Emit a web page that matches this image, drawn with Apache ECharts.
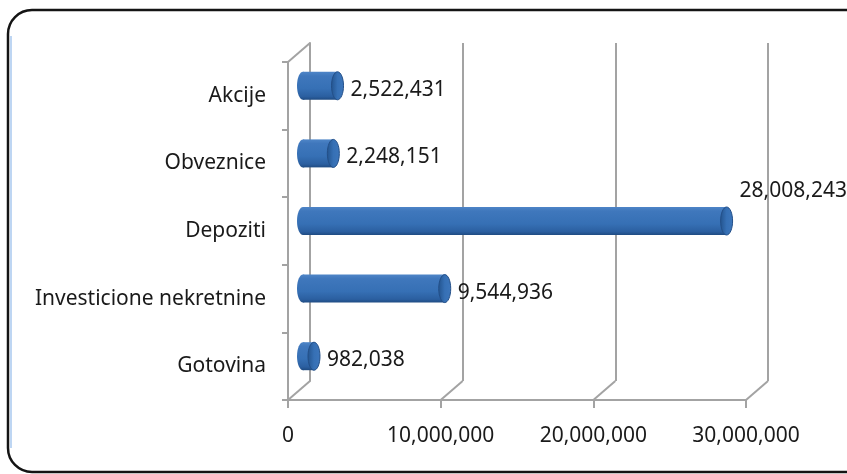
<!DOCTYPE html>
<html>
  <head>
    <meta charset="UTF-8">
    <title>Struktura ulaganja</title>
    <script src="https://cdn.jsdelivr.net/npm/echarts@6/dist/echarts.min.js"></script>
  </head>
  <body style="margin:0;background:#fff">
    <div id="box" style="width:847px;height:474px"></div>
    <script>
        // podaci
        var kategorije = ['Akcije', 'Obveznice', 'Depoziti', 'Investicione nekretnine', 'Gotovina'];
        var vrijednosti = [2522431, 2248151, 28008243, 9544936, 982038];
        var podjele = [0, 10000000, 20000000, 30000000];   // oznake na X osi

        var DX = 22, DY = 19;          // dubina 3D efekta
        var sivo = '#a3a3a3';
        var font = 'Noto Sans';

        function broj(v) {
            return String(v).replace(/\B(?=(\d{3})+(?!\d))/g, ',');
        }

        var myChart = echarts.init(document.getElementById('box'));
        myChart.setOption({
            animation: false,
            grid: [
                {left: 288, top: 62, width: 458, height: 338},            // prednja ravan
                {left: 288 + DX, top: 62 - DY, width: 458, height: 338}   // zadnji zid
            ],
            xAxis: [{
                gridIndex: 0, type: 'value', min: 0, max: 30000000, interval: 10000000,
                axisLine: {show: true, lineStyle: {color: sivo, width: 2}},
                axisTick: {show: true, length: 8, lineStyle: {color: sivo, width: 2}},
                splitLine: {show: false},
                axisLabel: {margin: 26, color: '#1a1a1a', fontSize: 21, fontFamily: font, formatter: broj}
            }, {
                gridIndex: 1, type: 'value', min: 0, max: 30000000, interval: 10000000,
                axisLine: {show: false}, axisTick: {show: false}, axisLabel: {show: false},
                splitLine: {show: true, lineStyle: {color: sivo, width: 2}}
            }],
            yAxis: [{
                gridIndex: 0, type: 'category', data: kategorije, inverse: true,
                axisLine: {show: true, lineStyle: {color: sivo, width: 2}},
                axisTick: {show: true, length: 6, lineStyle: {color: sivo, width: 2}},
                axisLabel: {margin: 22, color: '#1a1a1a', fontSize: 21, fontFamily: font}
            }, {
                gridIndex: 1, type: 'category', data: kategorije, inverse: true,
                axisLine: {show: true, lineStyle: {color: sivo, width: 2}},
                axisTick: {show: false}, axisLabel: {show: false}, splitLine: {show: false}
            }],
            graphic: [{
                type: 'rect', silent: true,
                shape: {x: 8, y: 10, width: 862, height: 462, r: 24},
                style: {fill: null, stroke: '#141414', lineWidth: 2.5}
            }, {
                type: 'line', silent: true,
                shape: {x1: 11, y1: 36, x2: 11, y2: 448},
                style: {stroke: '#a9c9ef', lineWidth: 1.5}
            }],
            series: [{
                // dijagonale poda i lijevog zida
                type: 'custom', xAxisIndex: 0, yAxisIndex: 0,
                data: podjele, silent: true, z: 1,
                renderItem: function (params, api) {
                    var cs = params.coordSys;
                    var x = api.coord([api.value(0), 0])[0];
                    var dno = cs.y + cs.height;
                    var linije = [{
                        type: 'line',
                        shape: {x1: x, y1: dno, x2: x + DX, y2: dno - DY},
                        style: {stroke: sivo, lineWidth: 2}
                    }];
                    if (params.dataIndex === 0) {
                        linije.push({
                            type: 'line',
                            shape: {x1: x, y1: cs.y, x2: x + DX, y2: cs.y - DY},
                            style: {stroke: sivo, lineWidth: 2}
                        });
                    }
                    return {type: 'group', children: linije};
                }
            }, {
                // valjci
                type: 'custom', xAxisIndex: 0, yAxisIndex: 0, z: 3,
                data: vrijednosti.map(function (v, i) { return [v, i]; }),
                renderItem: function (params, api) {
                    var cs = params.coordSys;
                    var p0 = api.coord([0, api.value(1)]);
                    var p1 = api.coord([api.value(0), api.value(1)]);
                    var h = 28, rx = 6;
                    var cy = p0[1] - 10;
                    var x0 = p0[0] + 15, x1 = Math.max(p1[0] + DX / 2, x0 + 2);
                    var tijelo = new echarts.graphic.LinearGradient(0, 0, 0, 1, [
                        {offset: 0, color: '#4e85c7'},
                        {offset: 0.15, color: '#3f77bc'},
                        {offset: 0.6, color: '#3670b5'},
                        {offset: 0.88, color: '#2b5fa0'},
                        {offset: 1, color: '#1f4b82'}
                    ]);
                    var kapa = new echarts.graphic.LinearGradient(0, 0, 1, 0, [
                        {offset: 0, color: '#23538d'},
                        {offset: 0.5, color: '#3670b5'},
                        {offset: 1, color: '#3d76bb'}
                    ]);
                    var txt = broj(api.value(0));
                    var lx = p1[0] + 24, ly = cy + 4;
                    if (lx + 100 > cs.x + cs.width) { ly = cy - 30; }
                    return {
                        type: 'group',
                        children: [{
                            type: 'ellipse',
                            shape: {cx: x0, cy: cy, rx: rx, ry: h / 2},
                            style: {fill: tijelo}
                        }, {
                            type: 'rect',
                            shape: {x: x0, y: cy - h / 2, width: x1 - x0, height: h},
                            style: {fill: tijelo}
                        }, {
                            type: 'ellipse',
                            shape: {cx: x1, cy: cy, rx: rx, ry: h / 2},
                            style: {fill: kapa, stroke: '#234f88', lineWidth: 1}
                        }, {
                            type: 'text',
                            style: {
                                x: lx, y: ly, text: txt, verticalAlign: 'middle',
                                fill: '#1a1a1a', font: '21px "Noto Sans"'
                            }
                        }]
                    };
                }
            }]
        });
    </script>
  </body>
</html>
